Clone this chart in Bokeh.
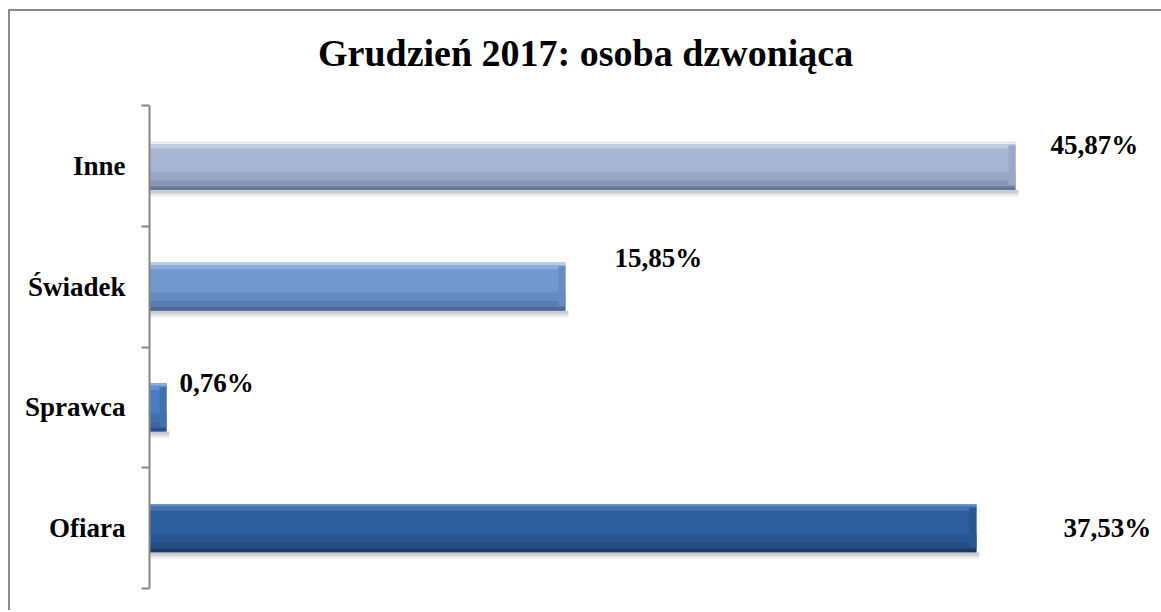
from bokeh.plotting import figure
from bokeh.models import Range1d, FixedTicker, ColumnDataSource, Div
from bokeh.layouts import column
from bokeh.core.properties import value
from bokeh.embed import file_html
from bokeh.resources import INLINE

# ---------------- data ----------------
title_text = "Grudzień 2017: osoba dzwoniąca"
categories = ["Ofiara", "Sprawca", "Świadek", "Inne"]          # bottom -> top
label_values = [37.53, 0.76, 15.85, 45.87]                     # printed data labels (%)
bar_lengths = [43.80, 0.90, 22.03, 45.87]                      # bar lengths as drawn (same % scale)

# ---------------- style ----------------
base_col = ["#2e5e9e", "#4a7cc2", "#7398d0", "#a6b5d3"]
top1_col = ["#6a92cb", "#8bb0e6", "#b8cdee", "#e6ecf6"]
top2_col = ["#4473b3", "#6190d3", "#8eaddd", "#c3cee4"]
mid_col = ["#29568f", "#4270ae", "#668bc2", "#99a8c6"]
low_col = ["#244c80", "#3a649e", "#5b7cb0", "#8896b4"]
dark_col = ["#1b3a64", "#2a4e82", "#4b6893", "#6b7894"]
lab_dx = [87, 13, 49, 35]       # label offsets from bar end (px)
lab_dy = [0, -24, -29, -21]     # label offsets from bar centre (px, + = down)

FONT = "Liberation Serif"
W = 1150
TITLE_H = 82
H = 507
LEFT, TOP, BOTTOM = 139, 2, 22
XMAX = 53.55
BAR_H = 0.40
FRAME_H = H - TOP - BOTTOM

# title as a block above the plot
title_div = Div(
    text=(f'<div style="padding-left:303px;padding-top:18px;font-family:\'{FONT}\';'
          f'font-size:38px;font-weight:bold;line-height:1;color:black;'
          f'white-space:nowrap;">{title_text}</div>'),
    width=W, height=TITLE_H)

p = figure(width=W, height=H, output_backend="svg", toolbar_location=None,
           title_location=None,
           x_range=Range1d(0, XMAX), y_range=Range1d(0, len(categories)),
           min_border_left=LEFT, min_border_right=0, min_border_top=TOP,
           min_border_bottom=BOTTOM)
p.outline_line_color = None
p.xgrid.visible = False
p.ygrid.visible = False
p.xaxis.visible = False
p.background_fill_color = "white"
p.border_fill_color = "white"

# y axis: labels at band centres, ticks at band boundaries
centers = [i + 0.5 for i in range(len(categories))]
yax = p.yaxis[0]
yax.ticker = FixedTicker(ticks=centers, minor_ticks=list(range(len(categories) + 1)))
yax.major_label_overrides = {c: cat for c, cat in zip(centers, categories)}
yax.major_tick_out = 0
yax.major_tick_in = 0
yax.minor_tick_out = 8
yax.minor_tick_in = 0
yax.minor_tick_line_color = "#868686"
yax.minor_tick_line_width = 2
yax.axis_line_color = "#868686"
yax.axis_line_width = 2
yax.major_label_standoff = 16
yax.major_label_text_font = FONT
yax.major_label_text_font_style = "bold"
yax.major_label_text_font_size = "27px"
yax.major_label_text_color = "black"

# bars with bevel-like shading
px_x = XMAX / (W - LEFT)                 # data units per px in x
px_y = len(categories) / FRAME_H         # data units per px in y
n = len(categories)

# soft shadow
for k, a in [(7, 0.05), (5, 0.07), (3, 0.09)]:
    p.quad(left=[0] * n, right=[v + 3 * px_x for v in bar_lengths],
           top=[c - BAR_H / 2 for c in centers],
           bottom=[c - BAR_H / 2 - k * px_y for c in centers],
           fill_color="black", fill_alpha=a, line_color=None)

def band(f0, f1, colors):
    p.quad(left=[0] * n, right=bar_lengths,
           top=[c + BAR_H / 2 - f0 * BAR_H for c in centers],
           bottom=[c + BAR_H / 2 - f1 * BAR_H for c in centers],
           fill_color=colors, line_color=None)

band(0.00, 1.00, base_col)
band(0.00, 0.05, top1_col)
band(0.05, 0.14, top2_col)
band(0.62, 0.80, mid_col)
band(0.80, 0.92, low_col)
band(0.92, 1.00, dark_col)

# right bevel edge
p.quad(left=[max(v - 7 * px_x, 0) for v in bar_lengths], right=bar_lengths,
       top=[c + BAR_H / 2 - 0.08 * BAR_H for c in centers],
       bottom=[c - BAR_H / 2 + 0.10 * BAR_H for c in centers],
       fill_color=mid_col, line_color=None)

# data labels
labels = [f"{v:.2f}".replace(".", ",") + "%" for v in label_values]
src = ColumnDataSource(dict(x=bar_lengths, y=centers, t=labels, dx=lab_dx, dy=lab_dy))
p.text(x="x", y="y", text="t", x_offset="dx", y_offset="dy", source=src,
       text_font=value(FONT), text_font_style="bold", text_font_size="27px",
       text_color="black", text_align="left", text_baseline="middle")

layout = column(title_div, p, spacing=0,
                styles={"margin-left": "8px", "margin-top": "9px",
                        "border-left": "2px solid #8a8a8a",
                        "border-top": "2px solid #8a8a8a",
                        "background-color": "white"})

open("out.html", "w").write(file_html(layout, INLINE))
